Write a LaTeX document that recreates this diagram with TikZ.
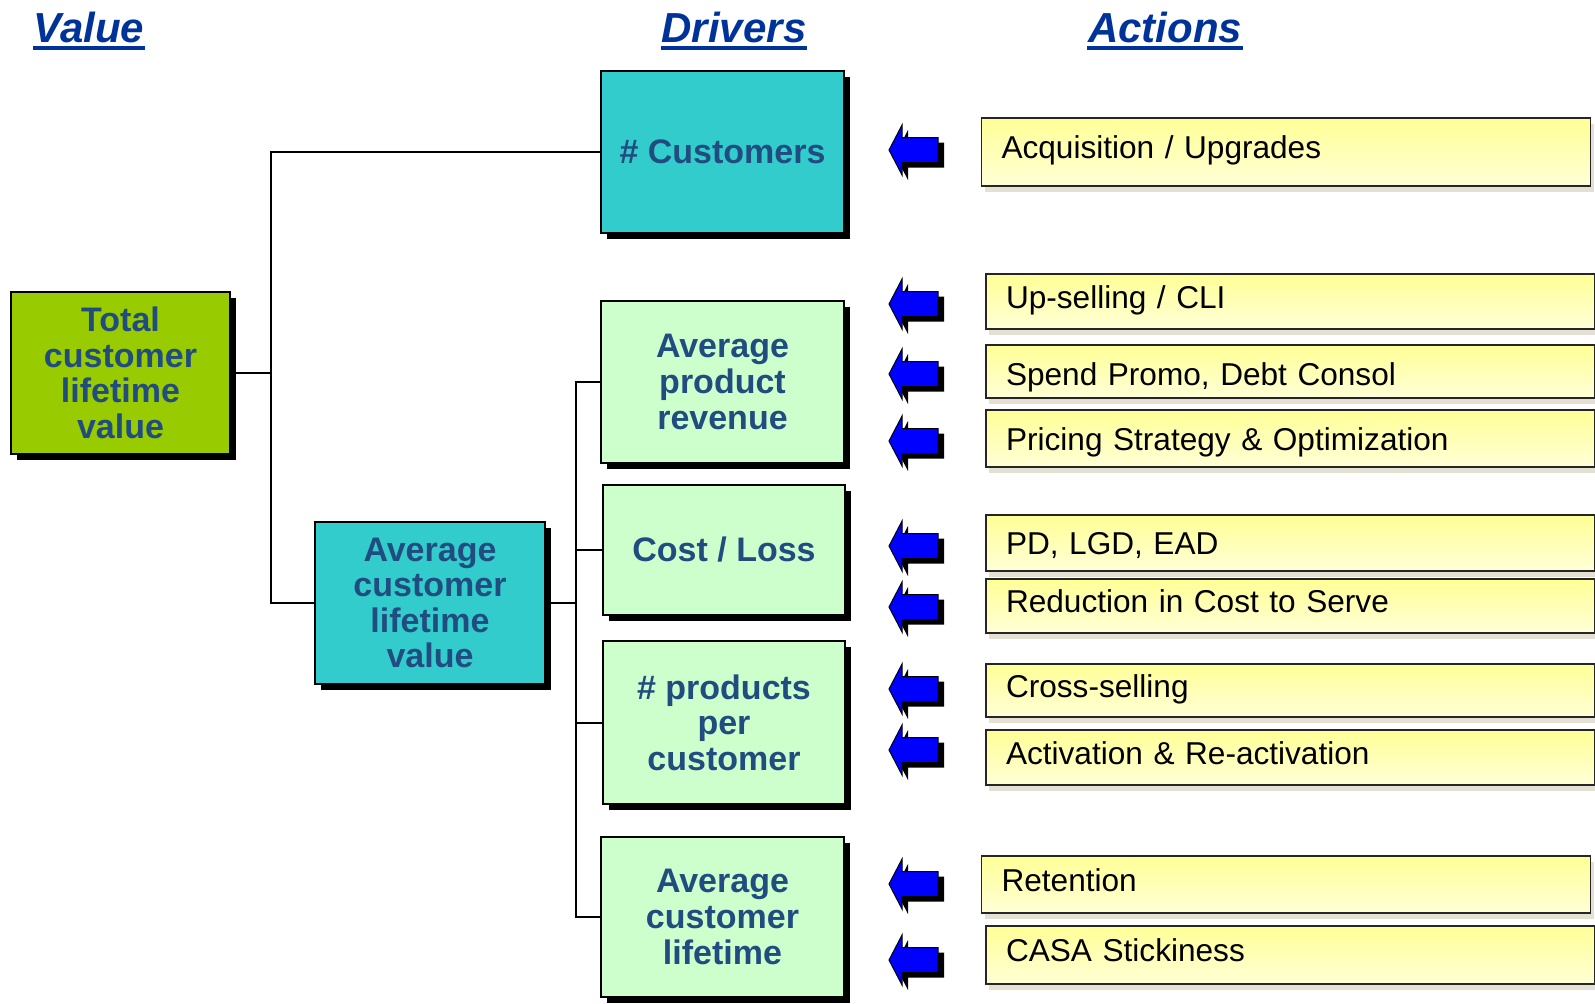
\documentclass[tikz,border=0pt]{standalone}
\usepackage{fontspec}
\setmainfont{Liberation Sans}
\usetikzlibrary{calc}

\definecolor{titleblue}{RGB}{0,51,153}
\definecolor{drivertext}{RGB}{33,76,128}
\definecolor{tealfill}{RGB}{51,204,204}
\definecolor{mintfill}{RGB}{204,255,204}
\definecolor{limefill}{RGB}{153,204,0}
\definecolor{yellowtop}{RGB}{255,255,150}
\definecolor{yellowbot}{RGB}{255,255,215}
\definecolor{paleshadow}{RGB}{228,225,212}

\tikzset{leftarrow/.pic={
    \fill[black, shift={(6,5)}] (-26,0) -- (-13,-25) -- (-13,-12.5) -- (23,-12.5) -- (23,12.5) -- (-13,12.5) -- (-13,25) -- cycle;
    \filldraw[fill=blue, draw=black, line width=0.5pt] (-26,0) -- (-13,-25) -- (-13,-12.5) -- (23,-12.5) -- (23,12.5) -- (-13,12.5) -- (-13,25) -- cycle;
}}

\begin{document}
\begin{tikzpicture}[x=0.5pt, y=-0.5pt, line width=1pt]
    \tikzstyle{driver}=[draw=black, line width=1pt, text=drivertext, inner sep=0pt, align=center,
        font=\fontsize{17}{17.8}\selectfont\bfseries,
        preaction={fill=black, transform canvas={xshift=3pt, yshift=-3pt}}]
    \tikzstyle{action}=[draw=black!85, line width=0.9pt, top color=yellowtop, bottom color=yellowbot,
        font=\fontsize{15.8}{18}\selectfont, text width=284.5pt, align=left, inner xsep=10pt, inner ysep=0pt,
        text height=11.5pt, text depth=5pt, minimum width=304.5pt,
        preaction={fill=paleshadow, transform canvas={xshift=1.5pt, yshift=-3pt}}]
    \tikzstyle{lowtext}=[text height=11.5pt, text depth=0pt]
    \tikzstyle{heading}=[text=titleblue, inner sep=0pt, anchor=base, font=\fontsize{21}{24}\selectfont\bfseries\itshape]
    \useasboundingbox (0,0) rectangle (1595,1003);

    % column headings
    \node[heading] (value)   at (89,42)   {Value};
    \node[heading] (drivers) at (734,42)  {Drivers};
    \node[heading] (actions) at (1165,42) {Actions};
    \foreach \h in {value,drivers,actions}
        \draw[titleblue, line width=2pt] ([yshift=-3.2pt]\h.base west) -- ([yshift=-3.2pt]\h.base east);

    % value tree
    \node[driver, fill=limefill, minimum width=109.5pt, minimum height=81pt] (total)     at (120.5,373) {Total\\customer\\lifetime\\value};
    \node[driver, fill=tealfill, minimum width=115pt,   minimum height=81pt] (avgclv)    at (430,603)   {Average\\customer\\lifetime\\value};
    \node[driver, fill=tealfill, minimum width=121.5pt, minimum height=81pt] (customers) at (722.5,152) {\# Customers};
    \node[driver, fill=mintfill, minimum width=121.5pt, minimum height=81pt] (revenue)   at (722.5,382) {Average\\product\\revenue};
    \node[driver, fill=mintfill, minimum width=121pt,   minimum height=65pt] (cost)      at (724,550)   {Cost / Loss};
    \node[driver, fill=mintfill, minimum width=121pt,   minimum height=81.5pt] (products) at (724,722.5) {\# products\\per\\customer};
    \node[driver, fill=mintfill, minimum width=121.5pt, minimum height=80pt] (lifetime)  at (722.5,917) {Average\\customer\\lifetime};

    \draw (total.east) -- ++(40,0) |- (customers.west);
    \draw (total.east) -- ++(40,0) |- (avgclv.west);
    \foreach \d in {revenue,cost,products,lifetime}
        \draw (avgclv.east) -- ++(30,0) |- (\d.west);

    % actions
    \node[action, minimum height=34pt]   (acq)    at (1286,152)    {Acquisition / Upgrades};
    \node[action, minimum height=27.5pt] (upsell) at (1290.5,301.5) {Up-selling / CLI};
    \node[action, minimum height=26.5pt, text height=14pt, text depth=0pt] (promo) at (1290.5,371.5) {Spend Promo, Debt Consol};
    \node[action, lowtext, minimum height=28.5pt] (pricing) at (1290.5,438.5) {Pricing Strategy \& Optimization};
    \node[action, lowtext, minimum height=28pt]   (pd)     at (1290.5,543)   {PD, LGD, EAD};
    \node[action, minimum height=27pt]   (serve)  at (1290.5,606)   {Reduction in Cost to Serve};
    \node[action, minimum height=26.5pt] (xsell)  at (1290.5,690.5) {Cross-selling};
    \node[action, minimum height=27.5pt] (activ)  at (1290.5,757.5) {Activation \& Re-activation};
    \node[action, minimum height=28.5pt] (retain) at (1286,884.5)   {Retention};
    \node[action, minimum height=29pt]   (casa)   at (1290.5,955)   {CASA Stickiness};

    \foreach \y in {150,304,374,441,546,607,689,750,884,960}
        \pic at (915,\y) {leftarrow};
\end{tikzpicture}
\end{document}
